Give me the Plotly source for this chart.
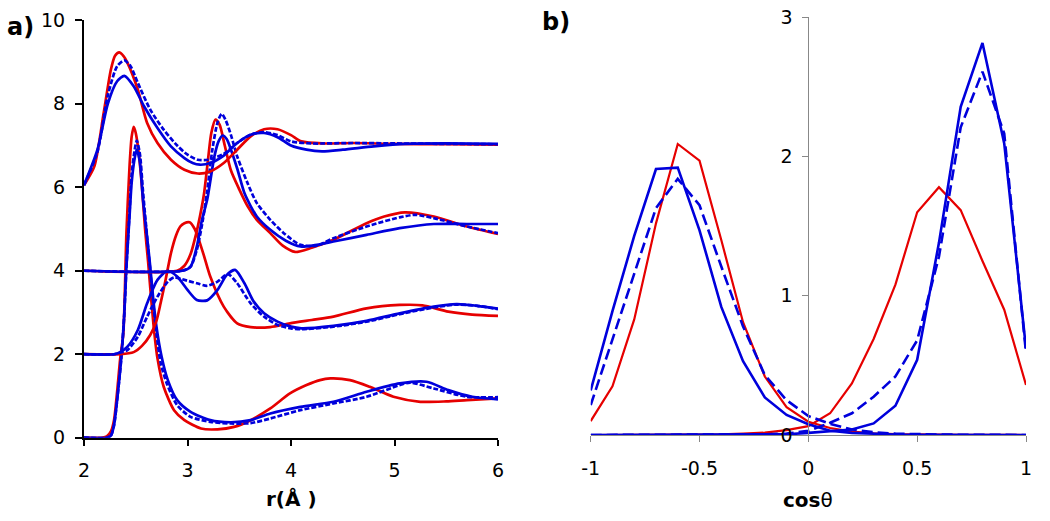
import plotly.graph_objects as go

# ---------------- Panel a: radial distribution functions (offset curves) ----------------
OFFSETS = [0, 2, 4, 6]

# group offset 0
r_red0 = [2.0, 2.18, 2.22, 2.26, 2.29, 2.32, 2.35, 2.38, 2.41, 2.44, 2.46, 2.48, 2.50, 2.53, 2.56, 2.59, 2.62, 2.65, 2.68, 2.71, 2.77, 2.87, 2.97, 3.13, 3.29, 3.45, 3.61, 3.8, 3.99, 4.15, 4.28, 4.38, 4.57, 4.76, 4.99, 5.25, 5.5, 5.7, 6.0]
g_red0 = [0, 0, 0.03, 0.15, 0.42, 1.1, 1.9, 2.5, 4.9, 6.5, 7.2, 7.45, 7.3, 6.8, 6.0, 5.0, 4.2, 3.3, 2.5, 1.9, 1.22, 0.66, 0.42, 0.22, 0.2, 0.26, 0.42, 0.7, 1.06, 1.26, 1.38, 1.42, 1.38, 1.22, 0.98, 0.86, 0.87, 0.9, 0.94]
r_blu0 = [2.0, 2.22, 2.26, 2.29, 2.32, 2.36, 2.39, 2.41, 2.44, 2.46, 2.49, 2.51, 2.54, 2.57, 2.61, 2.64, 2.67, 2.70, 2.75, 2.81, 2.9, 3.03, 3.22, 3.42, 3.61, 3.8, 4.09, 4.41, 4.73, 5.05, 5.31, 5.52, 5.75, 6.0]
g_blu0 = [0, 0, 0.05, 0.3, 0.9, 1.9, 3.0, 4.1, 5.3, 6.1, 6.7, 6.9, 6.6, 5.7, 4.8, 4.1, 3.3, 2.66, 1.94, 1.38, 0.9, 0.62, 0.42, 0.37, 0.42, 0.58, 0.74, 0.86, 1.1, 1.3, 1.34, 1.14, 0.98, 0.92]
r_bld0 = [2.0, 2.22, 2.26, 2.29, 2.32, 2.36, 2.39, 2.41, 2.44, 2.46, 2.49, 2.51, 2.54, 2.57, 2.61, 2.64, 2.67, 2.70, 2.74, 2.80, 2.9, 3.03, 3.22, 3.42, 3.61, 3.8, 4.09, 4.41, 4.73, 5.05, 5.15, 5.38, 5.7, 6.0]
g_bld0 = [0, 0, 0.05, 0.3, 0.9, 1.9, 3.0, 4.1, 5.4, 6.3, 6.9, 7.12, 6.8, 5.9, 4.8, 4.0, 3.2, 2.5, 1.8, 1.3, 0.78, 0.5, 0.38, 0.34, 0.35, 0.46, 0.66, 0.82, 0.98, 1.26, 1.32, 1.18, 0.98, 0.97]

# group offset 2
r_red2 = [2.0, 2.35, 2.48, 2.56, 2.64, 2.70, 2.74, 2.79, 2.84, 2.89, 2.93, 2.97, 3.02, 3.07, 3.11, 3.16, 3.22, 3.35, 3.48, 3.61, 3.8, 3.99, 4.2, 4.41, 4.73, 5.05, 5.27, 5.52, 5.75, 6.0]
g_red2 = [0.0, 0.0, 0.05, 0.2, 0.46, 0.8, 1.22, 1.8, 2.42, 2.85, 3.06, 3.14, 3.16, 3.0, 2.74, 2.35, 1.86, 1.14, 0.74, 0.65, 0.65, 0.74, 0.82, 0.9, 1.1, 1.18, 1.17, 1.02, 0.95, 0.92]
r_blu2 = [2.0, 2.29, 2.35, 2.42, 2.52, 2.61, 2.71, 2.81, 2.9, 3.0, 3.09, 3.19, 3.29, 3.38, 3.46, 3.55, 3.64, 3.74, 3.87, 4.0, 4.1, 4.41, 4.73, 5.05, 5.38, 5.6, 5.8, 6.0]
g_blu2 = [0.0, 0.0, 0.05, 0.18, 0.58, 1.22, 1.78, 2.0, 1.86, 1.54, 1.3, 1.29, 1.54, 1.9, 2.02, 1.7, 1.26, 0.98, 0.78, 0.66, 0.62, 0.68, 0.8, 0.98, 1.14, 1.2, 1.16, 1.09]
r_bld2 = [2.0, 2.29, 2.35, 2.42, 2.52, 2.61, 2.71, 2.81, 2.87, 2.97, 3.09, 3.19, 3.29, 3.39, 3.48, 3.61, 3.74, 3.87, 4.0, 4.1, 4.41, 4.73, 5.05, 5.38, 5.6, 5.8, 6.0]
g_bld2 = [0.0, 0.0, 0.04, 0.1, 0.42, 0.9, 1.38, 1.74, 1.84, 1.78, 1.7, 1.64, 1.74, 1.92, 1.7, 1.22, 0.9, 0.7, 0.62, 0.6, 0.66, 0.78, 0.96, 1.12, 1.19, 1.16, 1.08]

# group offset 4
r_red4 = [2.0, 2.9, 2.97, 3.03, 3.08, 3.12, 3.16, 3.2, 3.23, 3.27, 3.31, 3.36, 3.42, 3.5, 3.58, 3.67, 3.8, 3.92, 4.04, 4.2, 4.41, 4.73, 4.9, 5.1, 5.38, 5.7, 6.0]
g_red4 = [0.0, 0.0, 0.12, 0.4, 0.85, 1.3, 1.85, 2.7, 3.3, 3.62, 3.5, 3.0, 2.4, 1.95, 1.55, 1.22, 0.9, 0.6, 0.45, 0.55, 0.74, 1.14, 1.3, 1.4, 1.3, 1.06, 0.88]
r_blu4 = [2.0, 2.95, 3.03, 3.09, 3.14, 3.19, 3.26, 3.3, 3.34, 3.38, 3.42, 3.48, 3.55, 3.61, 3.67, 3.8, 3.95, 4.09, 4.25, 4.41, 4.73, 5.05, 5.38, 5.7, 6.0]
g_blu4 = [0.0, 0.0, 0.1, 0.58, 1.22, 1.7, 2.74, 3.1, 3.24, 3.15, 2.9, 2.45, 1.86, 1.55, 1.3, 0.98, 0.72, 0.58, 0.62, 0.7, 0.86, 1.02, 1.12, 1.12, 1.12]
r_bld4 = [2.0, 2.95, 3.03, 3.09, 3.14, 3.19, 3.24, 3.29, 3.33, 3.37, 3.42, 3.48, 3.58, 3.67, 3.8, 3.93, 4.09, 4.25, 4.41, 4.73, 5.05, 5.2, 5.38, 5.7, 6.0]
g_bld4 = [0.0, 0.0, 0.1, 0.5, 1.1, 1.9, 2.9, 3.55, 3.76, 3.6, 3.25, 2.74, 2.1, 1.62, 1.22, 0.9, 0.62, 0.6, 0.78, 1.06, 1.28, 1.34, 1.26, 1.06, 0.9]

# group offset 6
r_red6 = [2.0, 2.1, 2.19, 2.26, 2.30, 2.34, 2.38, 2.42, 2.52, 2.61, 2.71, 2.84, 2.97, 3.1, 3.22, 3.35, 3.48, 3.61, 3.74, 3.87, 4.0, 4.1, 4.3, 4.6, 5.0, 5.5, 6.0]
g_red6 = [0.05, 0.5, 1.78, 2.82, 3.15, 3.23, 3.15, 2.98, 2.34, 1.54, 1.06, 0.66, 0.42, 0.33, 0.38, 0.58, 0.9, 1.22, 1.39, 1.39, 1.25, 1.1, 1.05, 1.06, 1.04, 1.03, 1.02]
r_blu6 = [2.0, 2.13, 2.23, 2.32, 2.39, 2.48, 2.58, 2.71, 2.84, 2.97, 3.05, 3.12, 3.22, 3.35, 3.48, 3.61, 3.74, 3.87, 4.0, 4.15, 4.3, 4.5, 4.8, 5.1, 5.5, 6.0]
g_blu6 = [0.05, 0.9, 2.0, 2.54, 2.67, 2.42, 1.94, 1.42, 0.98, 0.7, 0.58, 0.54, 0.58, 0.76, 1.06, 1.26, 1.3, 1.2, 1.0, 0.9, 0.86, 0.9, 0.98, 1.04, 1.05, 1.04]
r_bld6 = [2.0, 2.13, 2.23, 2.32, 2.39, 2.45, 2.52, 2.64, 2.77, 2.9, 3.0, 3.1, 3.2, 3.35, 3.48, 3.61, 3.74, 3.87, 4.0, 4.2, 4.6, 5.0, 5.5, 6.0]
g_bld6 = [0.05, 0.85, 2.2, 2.9, 3.04, 2.9, 2.5, 1.86, 1.38, 1.0, 0.78, 0.66, 0.66, 0.8, 1.06, 1.26, 1.32, 1.25, 1.1, 1.05, 1.06, 1.05, 1.04, 1.03]

# ---------------- Panel b: cos(theta) distributions ----------------
cos_x = [-1.0, -0.9, -0.8, -0.7, -0.6, -0.5, -0.4, -0.3, -0.2, -0.1, 0.0, 0.1, 0.2, 0.3, 0.4, 0.5, 0.6, 0.7, 0.8, 0.9, 1.0]
red_left  = [0.10, 0.35, 0.83, 1.52, 2.09, 1.97, 1.40, 0.81, 0.42, 0.20, 0.095, 0.05, 0.025, 0.012, 0.006, 0.003, 0.002, 0.001, 0.001, 0.001, 0.0]
blu_left  = [0.32, 0.89, 1.43, 1.91, 1.92, 1.47, 0.92, 0.53, 0.27, 0.144, 0.077, 0.03, 0.015, 0.007, 0.004, 0.002, 0.001, 0.001, 0.0, 0.0, 0.0]
bld_left  = [0.215, 0.69, 1.15, 1.63, 1.84, 1.65, 1.21, 0.78, 0.43, 0.25, 0.136, 0.08, 0.04, 0.02, 0.01, 0.005, 0.003, 0.002, 0.001, 0.001, 0.0]
red_right = [0.0, 0.0, 0.0, 0.001, 0.002, 0.003, 0.005, 0.01, 0.017, 0.035, 0.064, 0.156, 0.37, 0.69, 1.08, 1.60, 1.78, 1.615, 1.25, 0.90, 0.36]
blu_right = [0.0, 0.0, 0.0, 0.0, 0.0, 0.0, 0.0, 0.0, 0.002, 0.005, 0.015, 0.03, 0.04, 0.083, 0.21, 0.54, 1.38, 2.357, 2.816, 2.094, 0.62]
bld_right = [0.0, 0.0, 0.0, 0.0, 0.0, 0.0, 0.0, 0.002, 0.005, 0.01, 0.03, 0.088, 0.156, 0.275, 0.42, 0.68, 1.28, 2.21, 2.61, 2.166, 0.59]

xticks_a = [2, 3, 4, 5, 6]
yticks_a = [0, 2, 4, 6, 8, 10]
xticks_b = [-1, -0.5, 0, 0.5, 1]
xticklabels_b = ["-1", "-0.5", "0", "0.5", "1"]
yticks_b = [0, 1, 2, 3]

RED = "#e60000"
BLUE = "#0000dc"
FONT = "DejaVu Sans"

fig = go.Figure()

groups = [
    (OFFSETS[0], (r_red0, g_red0), (r_blu0, g_blu0), (r_bld0, g_bld0)),
    (OFFSETS[1], (r_red2, g_red2), (r_blu2, g_blu2), (r_bld2, g_bld2)),
    (OFFSETS[2], (r_red4, g_red4), (r_blu4, g_blu4), (r_bld4, g_bld4)),
    (OFFSETS[3], (r_red6, g_red6), (r_blu6, g_blu6), (r_bld6, g_bld6)),
]
for off, red, blu, bld in groups:
    for (rr, gg), col, dash in [(red, RED, "solid"), (bld, BLUE, "5px,2px"), (blu, BLUE, "solid")]:
        fig.add_trace(go.Scatter(
            x=rr, y=[v + off for v in gg], mode="lines",
            line=dict(color=col, width=2.7, dash=dash, shape="spline", smoothing=0.7),
            xaxis="x", yaxis="y", showlegend=False, hoverinfo="skip"))

for ys, col, dash, w in [(red_left, RED, "solid", 2.2), (red_right, RED, "solid", 2.2),
                         (bld_left, BLUE, "11px,5px", 2.6), (bld_right, BLUE, "11px,5px", 2.6),
                         (blu_left, BLUE, "solid", 2.6), (blu_right, BLUE, "solid", 2.6)]:
    fig.add_trace(go.Scatter(
        x=cos_x, y=ys, mode="lines",
        line=dict(color=col, width=w, dash=dash),
        xaxis="x2", yaxis="y2", showlegend=False, hoverinfo="skip", cliponaxis=False))

W, H = 1050, 521
def px_x(p): return p / W
def px_y(p): return (H - p) / H

fig.update_layout(
    width=W, height=H,
    margin=dict(l=0, r=0, t=0, b=0, pad=0, autoexpand=False),
    paper_bgcolor="white", plot_bgcolor="white",
    font=dict(family=FONT, size=19, color="black"),
    xaxis=dict(domain=[px_x(84), px_x(498)], range=[2, 6], anchor="y", automargin=False,
               tickvals=xticks_a, ticks="outside", ticklen=6, tickwidth=2, tickcolor="black",
               showline=True, linecolor="black", linewidth=2, showgrid=False, zeroline=False,
               ticklabelstandoff=8, ticklabeloverflow="allow", tickfont=dict(size=19)),
    yaxis=dict(domain=[px_y(437.7), px_y(20.3)], range=[0, 10], anchor="x", automargin=False,
               tickvals=yticks_a, ticks="outside", ticklen=7, tickwidth=2, tickcolor="black",
               showline=True, linecolor="black", linewidth=2, showgrid=False, zeroline=False,
               ticklabelstandoff=6, ticklabeloverflow="allow", tickfont=dict(size=19)),
    xaxis2=dict(domain=[px_x(590.7), px_x(1026)], range=[-1, 1], anchor="y2", automargin=False,
                tickvals=xticks_b, ticktext=xticklabels_b, ticks="outside", ticklen=6, tickwidth=1,
                tickcolor="#888888", showline=True, linecolor="#888888", linewidth=1,
                showgrid=False, zeroline=False, ticklabelstandoff=10, ticklabeloverflow="allow",
                tickfont=dict(size=19)),
    yaxis2=dict(domain=[px_y(435), px_y(17.3)], range=[0, 3], anchor="free", position=px_x(808.3),
                automargin=False,
                tickvals=yticks_b, ticks="outside", ticklen=6, tickwidth=1, tickcolor="#888888",
                showline=True, linecolor="#888888", linewidth=1, showgrid=False, zeroline=False,
                ticklabelstandoff=6, ticklabeloverflow="allow", tickfont=dict(size=19)),
    annotations=[
        dict(text="<b>a)</b>", x=px_x(5), y=px_y(27), xref="paper", yref="paper",
             xanchor="left", yanchor="middle", showarrow=False, font=dict(size=24)),
        dict(text="<b>b)</b>", x=px_x(540), y=px_y(22), xref="paper", yref="paper",
             xanchor="left", yanchor="middle", showarrow=False, font=dict(size=24)),
        dict(text="<b>r(Å )</b>", x=px_x(291), y=px_y(499), xref="paper", yref="paper",
             xanchor="center", yanchor="middle", showarrow=False, font=dict(size=20)),
        dict(text="<b>cos</b>θ", x=px_x(808), y=px_y(500), xref="paper", yref="paper",
             xanchor="center", yanchor="middle", showarrow=False, font=dict(size=20)),
    ],
)

# remove the browser's default 8px body margin so the figure fills the window
fig.write_html("out.html", config={"displayModeBar": False},
               post_script="document.body.style.margin='0';")
